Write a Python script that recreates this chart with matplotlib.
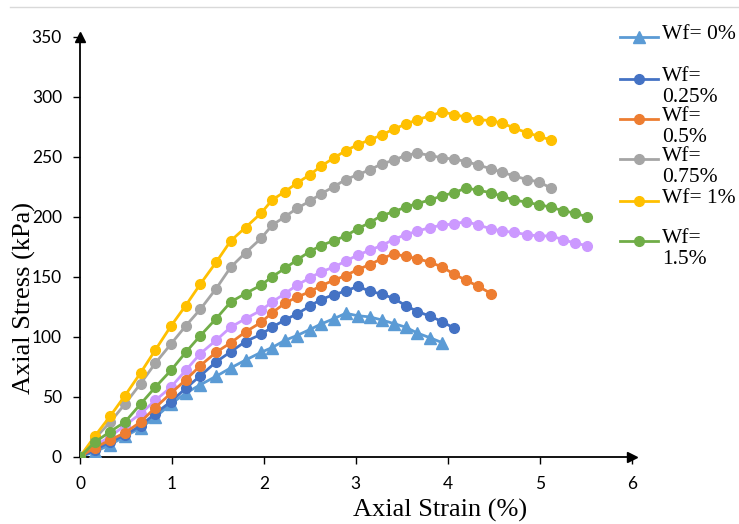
import matplotlib
matplotlib.use("Agg")
import matplotlib.pyplot as plt
from matplotlib.lines import Line2D

strain = [0, 0.16, 0.33, 0.49, 0.66, 0.82, 0.99, 1.15, 1.31, 1.48, 1.64, 1.80, 1.97,
          2.09, 2.23, 2.36, 2.50, 2.62, 2.76, 2.89, 3.02, 3.15, 3.28, 3.41, 3.54,
          3.67, 3.81, 3.94, 4.07, 4.20, 4.33, 4.47, 4.59, 4.72, 4.86, 4.99, 5.12,
          5.25, 5.38, 5.51]

wf_0 = [0, 4, 10, 17, 24, 33, 44, 53, 60, 67, 74, 80.5, 87, 91, 97, 101, 106, 110.5,
        115, 119.5, 117.5, 116.5, 114, 111, 108, 103, 99, 95]
wf_025 = [0, 5.5, 12.5, 18, 26, 36, 46, 57, 67.5, 79, 87.5, 96, 102, 108, 114, 119,
          125.5, 131, 135, 138, 142, 138, 135.5, 132, 126, 121, 117, 112.5, 107]
wf_05 = [0, 7.5, 14, 20, 29, 41, 53, 64, 76, 87, 95, 104, 112, 120, 128, 133, 137.5,
         142.5, 147, 151, 156, 160, 165, 169, 167, 165, 162, 158, 152, 147, 142, 136]
wf_075 = [0, 15, 29, 44, 61, 78, 94, 109, 123, 140, 158, 170, 182, 193, 200, 207, 213,
          219, 225, 231, 235, 239, 244, 247, 251, 253, 251, 249, 248, 246, 243, 240,
          237, 234, 231, 229, 224]
wf_1 = [0, 17, 34, 51, 70, 89, 109, 126, 144, 162, 180, 191, 203, 214, 221, 228, 235,
        242, 249, 255, 260, 264, 268, 273, 277, 281, 284, 287.5, 285, 283, 281, 280,
        278, 274, 270, 267, 264]
wf_15 = [0, 12, 21, 29, 44, 58, 72, 87, 101, 115, 129, 136, 143, 150, 157, 164, 171,
         176, 180, 184, 190, 195, 201, 204, 208, 211, 214, 217.5, 220, 224, 222, 220,
         217, 214, 212, 210, 208, 205, 203, 200]
wf_2 = [0, 9, 17, 26, 36, 47, 58, 72, 86, 97, 108, 115, 122, 129, 136, 143, 149, 154,
        158, 163, 168, 172, 176, 181, 185, 188, 191, 193, 194, 196, 193, 190, 188, 187,
        185, 184, 184, 181, 178, 176]

labels = ["Wf= 0%", "Wf=\n0.25%", "Wf=\n0.5%", "Wf=\n0.75%", "Wf= 1%", "Wf=\n1.5%"]

fig = plt.figure(figsize=(7.39, 5.24), dpi=100)
ax = fig.add_axes([80 / 739, 1 - 456.7 / 524, (631.7 - 80) / 739, (456.7 - 36.7) / 524])

series = [
    (wf_0, "#5b9bd5", "^", 8.5),
    (wf_025, "#4472c4", "o", 7),
    (wf_05, "#ed7d31", "o", 7),
    (wf_075, "#a5a5a5", "o", 7),
    (wf_1, "#ffc000", "o", 7),
    (wf_15, "#70ad47", "o", 7),
]
# purple series is plotted but has no legend entry
ax.plot(strain[:len(wf_2)], wf_2, color="#cc99ff", marker="o", ms=7, lw=2, zorder=3)
for vals, col, mk, ms in series:
    ax.plot(strain[:len(vals)], vals, color=col, marker=mk, ms=ms, lw=2, zorder=3)

ax.set_xlim(0, 6)
ax.set_ylim(0, 350)
ax.set_xticks(range(0, 7))
ax.set_yticks(range(0, 351, 50))
for s in ["top", "right"]:
    ax.spines[s].set_visible(False)
for s in ["left", "bottom"]:
    ax.spines[s].set_linewidth(1.3)
    ax.spines[s].set_color("black")
ax.tick_params(direction="out", length=5, width=1, labelsize=12.5, colors="black")
for lab in ax.get_xticklabels() + ax.get_yticklabels():
    lab.set_family("Lato")
ax.tick_params(axis="x", pad=9)
ax.tick_params(axis="y", pad=8)

# axis arrows
ax.plot(1, 0, ">k", ms=7, transform=ax.transAxes, clip_on=False)
ax.plot(0, 1, "^k", ms=7, transform=ax.transAxes, clip_on=False)

fig.text(440 / 739, 1 - 510 / 524, "Axial Strain (%)", family="Liberation Serif",
         fontsize=19, ha="center", va="center")
fig.text(24 / 739, 1 - 298 / 524, "Axial Stress (kPa)", family="Liberation Serif",
         fontsize=19, ha="center", va="center", rotation=90)

# legend, drawn by hand so that the marker lines up with the first text line
leg_y = [37, 79, 119, 159, 201, 241]
for (vals, col, mk, ms), lab, y in zip(series, labels, leg_y):
    yf = 1 - y / 524
    fig.add_artist(Line2D([620 / 739, 658 / 739], [yf, yf], color=col, lw=2))
    fig.add_artist(Line2D([639 / 739], [yf], color=col, marker=mk, ms=ms))
    fig.text(662 / 739, yf + 12 / 524, lab, family="Liberation Serif", fontsize=15.5,
             ha="left", va="top", linespacing=1.15)

# thin grey border line at the top
fig.add_artist(Line2D([10 / 739, 1], [1 - 7 / 524, 1 - 7 / 524], color="#d9d9d9", lw=1))

fig.savefig("out.png", dpi=100)
